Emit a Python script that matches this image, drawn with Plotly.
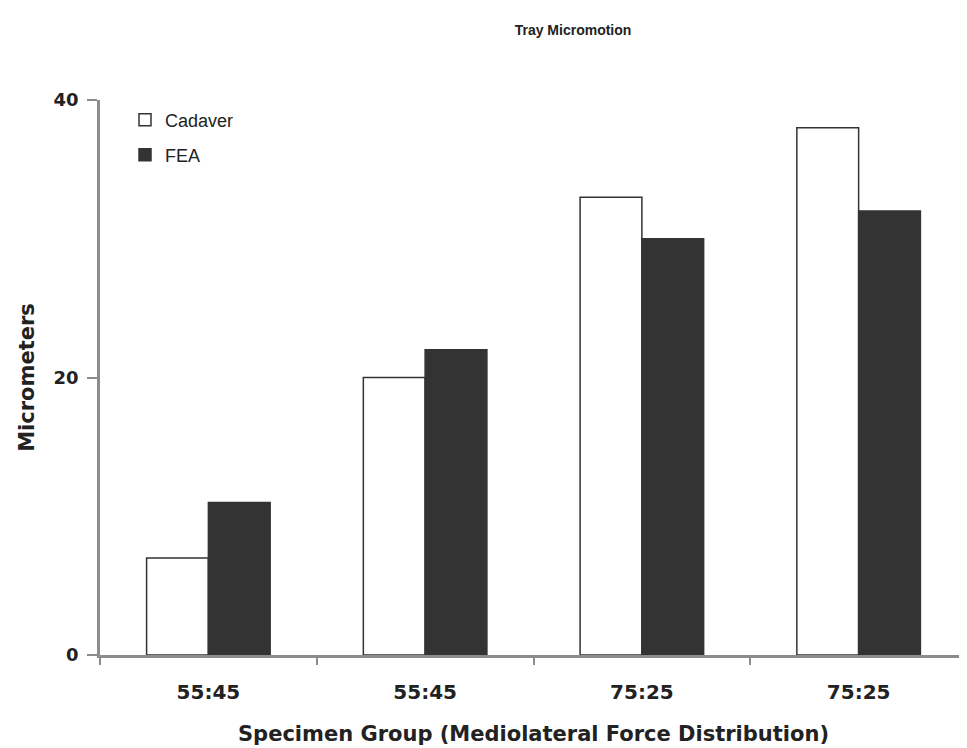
import plotly.graph_objects as go

group_labels = ["55:45", "55:45", "75:25", "75:25"]
group_ids = [0, 1, 2, 3]
cadaver = [7, 20, 33, 38]
fea = [11, 22, 30, 32]

FONT = "DejaVu Sans, Verdana, sans-serif"
TITLE_FONT = "Liberation Sans, Arial, sans-serif"
LEG_FONT = "Liberation Sans, Arial, sans-serif"
AXIS_COLOR = "#8c8c8c"
TXT = "#222222"

# the page body has an 8px default margin; compensate so the plot lands where the reference has it
OFF = 8
W, H = 967, 748
L, T = 100 - OFF, 100 - OFF
PW, PH = 867, 555

fig = go.Figure()
fig.add_trace(go.Bar(
    x=group_ids, y=cadaver, name="Cadaver",
    marker=dict(color="white", line=dict(color="#333333", width=1.5)),
    legend="legend", showlegend=True,
))
fig.add_trace(go.Bar(
    x=group_ids, y=fea, name="FEA",
    marker=dict(color="#333333", line=dict(color="#333333", width=1.5)),
    legend="legend2", showlegend=True,
))

legend_common = dict(
    font=dict(family=LEG_FONT, size=18, color=TXT),
    bgcolor="rgba(0,0,0,0)", xanchor="left", yanchor="middle",
    itemwidth=30, tracegroupgap=0, visible=True,
)

fig.update_layout(
    width=W, height=H,
    margin=dict(l=L, r=W - L - PW, t=T, b=H - T - PH, autoexpand=False),
    showlegend=True,
    paper_bgcolor="white", plot_bgcolor="white",
    barmode="group", bargap=0.43, bargroupgap=0,
    title=dict(text="Tray Micromotion", x=(573 - OFF) / W, xanchor="center",
               y=1 - (30 - OFF) / H, yanchor="middle", xref="container", yref="container",
               font=dict(family=TITLE_FONT, size=14, color=TXT, weight="bold")),
    legend=dict(x=(125 - 100) / PW, y=1 - (120 - 100) / PH, **legend_common),
    legend2=dict(x=(125 - 100) / PW, y=1 - (155 - 100) / PH, **legend_common),
    xaxis=dict(
        type="category", automargin=False,
        tickvals=group_ids, ticktext=group_labels,
        tickson="boundaries", ticks="outside", ticklen=7, tickwidth=2, tickcolor=AXIS_COLOR,
        ticklabelstandoff=17,
        showline=True, linecolor=AXIS_COLOR, linewidth=2.5,
        showgrid=False, zeroline=False,
        tickfont=dict(family=FONT, size=20, color=TXT, weight="bold"),
        title=dict(text="Specimen Group (Mediolateral Force Distribution)",
                   font=dict(family=FONT, size=21, color=TXT, weight="bold"),
                   standoff=24),
        range=[-0.5, 3.5],
    ),
    yaxis=dict(
        range=[0, 40], tickvals=[0, 20, 40], automargin=False,
        ticks="outside", ticklen=10, tickwidth=2, tickcolor=AXIS_COLOR,
        ticklabelstandoff=5,
        showline=True, linecolor=AXIS_COLOR, linewidth=2.5,
        showgrid=False, zeroline=False,
        tickfont=dict(family=FONT, size=18, color=TXT, weight="bold"),
        title=dict(text="Micrometers",
                   font=dict(family=FONT, size=21, color=TXT, weight="bold"),
                   standoff=14),
    ),
)

fig.write_html("out.html")
